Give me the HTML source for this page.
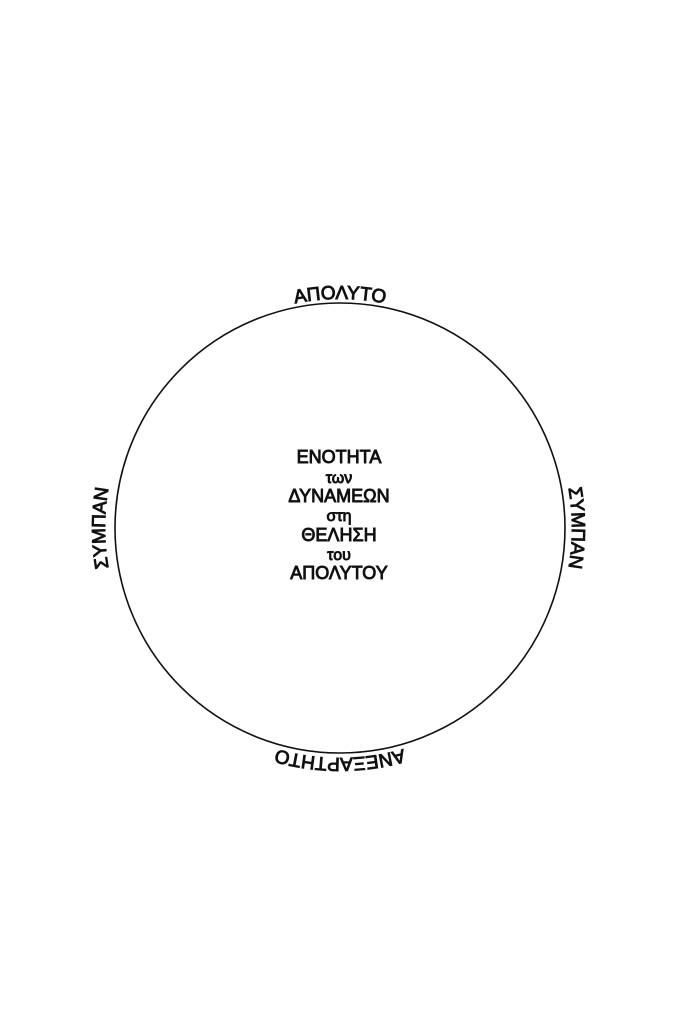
<!DOCTYPE html>
<html><head><meta charset="utf-8"><style>
html,body{margin:0;padding:0;background:#fff;}
svg{display:block;}
text{font-family:"Liberation Sans","DejaVu Sans",sans-serif;fill:#111;stroke:#111;stroke-width:0.9;}
</style></head><body>
<svg width="683" height="1024" viewBox="0 0 683 1024" xmlns="http://www.w3.org/2000/svg">
<defs>
<path id="pTop" d="M 111 528 A 229 229 0 0 1 569 528"/>
<path id="pRight" d="M 340 296 A 232 232 0 0 1 340 760"/>
<path id="pBottom" d="M 570 528 A 230 230 0 0 1 110 528"/>
<path id="pLeft" d="M 340 763 A 235 235 0 0 1 340 293"/>
</defs>
<circle cx="340" cy="528" r="225" fill="none" stroke="#111" stroke-width="1.6"/>
<text font-size="19"><textPath href="#pTop" startOffset="50%" text-anchor="middle">ΑΠΟΛΥΤΟ</textPath></text>
<text font-size="19"><textPath href="#pRight" startOffset="50%" text-anchor="middle">ΣΥΜΠΑΝ</textPath></text>
<text font-size="19"><textPath href="#pBottom" startOffset="50%" text-anchor="middle">ΑΝΕΞΑΡΤΗΤΟ</textPath></text>
<text font-size="19"><textPath href="#pLeft" startOffset="50%" text-anchor="middle">ΣΥΜΠΑΝ</textPath></text>
<g text-anchor="middle">
<text x="339" y="463" font-size="18">ΕΝΟΤΗΤΑ</text>
<text x="339" y="483" font-size="16">των</text>
<text x="339" y="502" font-size="18">ΔΥΝΑΜΕΩΝ</text>
<text x="339" y="521" font-size="16">στη</text>
<text x="339" y="541" font-size="18">ΘΕΛΗΣΗ</text>
<text x="339" y="560" font-size="16">του</text>
<text x="339" y="579" font-size="18">ΑΠΟΛΥΤΟΥ</text>
</g>
</svg>
</body></html>
